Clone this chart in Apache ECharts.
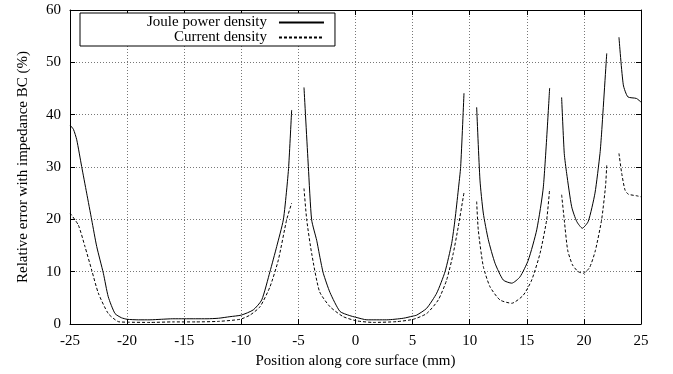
<!DOCTYPE html>
<html>
<head>
<meta charset="utf-8">
<script src="https://cdn.jsdelivr.net/npm/echarts@6/dist/echarts.min.js"></script>
<style>
html,body{margin:0;padding:0;background:#fff;}
#chart{width:673px;height:374px;}
</style>
</head>
<body>
<div id="chart"></div>
<script>
// Joule power density (solid) — null separates the segments
var jouleX = [-25, -24.7, -24.41, -23.98, -23.54, -23.1, -22.66, -22.08, -21.65, -21.06, -20.5, -20, -19, -18, -17, -16, -15, -14, -13, -12, -11, -10, -8.95, -8.21, -7.49, -6.9, -6.32, -6.03, -5.85, -5.59, null,
  -4.51, -4.13, -3.84, -3.4, -3.11, -2.82, -2.23, -1.36, -0.5, 0, 1.0, 2.73, 4.19, 5.0, 5.36, 6.23, 7.11, 7.84, 8.42, 8.71, 9.0, 9.21, 9.5, null,
  10.61, 10.9, 11.19, 11.63, 12.22, 12.94, 13.68, 14.4, 15.13, 15.87, 16.45, 17.0, null,
  18.05, 18.28, 18.49, 18.93, 19.37, 19.86, 20.38, 20.97, 21.41, 21.55, 22.0, null,
  23.07, 23.45, 23.85, 24.6, 25.0];
var jouleY = [38.0, 37.2, 35.2, 30.1, 25.0, 19.9, 14.8, 9.7, 5.2, 2.0, 1.2, 0.9, 0.8, 0.8, 0.9, 1.0, 1.0, 1.0, 1.0, 1.1, 1.4, 1.7, 2.7, 4.6, 10.0, 14.8, 19.9, 25.6, 30.1, 40.9, null,
  45.2, 30.1, 19.9, 16.0, 12.7, 9.7, 6.0, 2.4, 1.6, 1.3, 0.8, 0.8, 1.1, 1.5, 1.7, 3.0, 5.9, 10.0, 15.4, 19.9, 25.6, 30.1, 44.1, null,
  41.4, 27.5, 21.2, 16.1, 11.6, 8.4, 7.8, 9.0, 12.2, 18.0, 26.2, 45.1, null,
  43.3, 32.6, 28.8, 22.4, 19.6, 18.3, 19.6, 25.0, 32.6, 36.5, 51.7, null,
  54.8, 45.7, 43.4, 43.1, 42.4];

// Current density (dashed)
var currentX = [-25, -24.27, -23.69, -23.1, -22.52, -21.65, -20.77, -20, -18, -16, -14, -12, -10.11, -9.24, -8.36, -7.49, -6.76, -6.03, -5.59, null,
  -4.51, -4.27, -3.84, -3.15, -2.23, -1.07, 0.1, 1.56, 3.6, 5.06, 6.23, 7.25, 7.98, 8.56, 9.0, 9.5, null,
  10.61, 10.75, 11.19, 11.78, 12.65, 13.68, 14.69, 15.43, 16.16, 16.74, 17.0, null,
  18.05, 18.28, 18.58, 19.0, 19.5, 19.95, 20.5, 21.0, 21.55, 21.9, 22.0, null,
  23.07, 23.31, 23.6, 23.89, 24.62, 25.0];
var currentY = [21.2, 18.9, 14.8, 10.3, 5.9, 2.0, 0.45, 0.35, 0.3, 0.4, 0.4, 0.5, 0.9, 1.7, 3.3, 7.1, 12.2, 19.9, 23.1, null,
  25.9, 19.9, 13.5, 6.2, 3.3, 1.4, 0.6, 0.3, 0.45, 0.9, 2.0, 4.6, 8.4, 13.5, 18.6, 25.1, null,
  23.4, 18.0, 11.0, 7.1, 4.6, 3.96, 5.5, 8.4, 13.5, 19.9, 25.8, null,
  24.7, 19.9, 14.1, 11.3, 10.0, 9.7, 10.8, 14.0, 19.9, 26.5, 30.4, null,
  32.6, 28.8, 25.6, 24.8, 24.5, 24.3];

var seriesNames = ['Joule power density', 'Current density'];
var xTicks = {min: -25, max: 25, step: 5};
var yTicks = {min: 0, max: 60, step: 10};
var xTitle = 'Position along core surface (mm)';
var yTitle = 'Relative error with impedance BC (%)';

function pairs(xs, ys) {
  var out = [];
  for (var i = 0; i < xs.length; i++) {
    if (xs[i] === null) out.push([null, null]);
    else out.push([xs[i], ys[i]]);
  }
  return out;
}

var FONT = 'Liberation Serif';
var chart = echarts.init(document.getElementById('chart'));
var gridLine = {show: true, lineStyle: {color: '#777', type: [1, 2], width: 1}};
function mirror(extra) {
  return Object.assign({
    type: 'value',
    axisLine: {show: true, onZero: false, lineStyle: {color: '#000', width: 1}},
    axisTick: {show: true, inside: true, length: 5, lineStyle: {color: '#000'}},
    axisLabel: {show: false},
    splitLine: {show: false}
  }, extra);
}
chart.setOption({
  animation: false,
  backgroundColor: '#fff',
  textStyle: {fontFamily: FONT},
  grid: {left: 70, right: 32, top: 10, bottom: 50},
  legend: {
    data: seriesNames,
    orient: 'vertical',
    align: 'right',
    left: 80,
    top: 13,
    itemWidth: 45,
    itemHeight: 14,
    itemGap: 0,
    padding: [2, 10, 1, 67],
    backgroundColor: '#fff',
    borderColor: '#000',
    borderWidth: 1,
    borderRadius: 0,
    itemStyle: {color: 'transparent', borderColor: 'transparent', borderWidth: 0, opacity: 0},
    textStyle: {fontFamily: FONT, fontSize: 15, color: '#000', padding: [0, 7, 0, 0]}
  },
  xAxis: [
    {
      type: 'value', min: xTicks.min, max: xTicks.max, interval: xTicks.step,
      position: 'bottom',
      name: xTitle, nameLocation: 'middle', nameGap: 30,
      nameTextStyle: {fontFamily: FONT, fontSize: 15, color: '#000'},
      axisLine: {show: true, onZero: false, lineStyle: {color: '#000', width: 1}},
      axisTick: {show: true, inside: true, length: 5, lineStyle: {color: '#000'}},
      axisLabel: {fontFamily: FONT, fontSize: 15, color: '#000', margin: 10},
      splitLine: gridLine
    },
    mirror({min: xTicks.min, max: xTicks.max, interval: xTicks.step, position: 'top'})
  ],
  yAxis: [
    {
      type: 'value', min: yTicks.min, max: yTicks.max, interval: yTicks.step,
      position: 'left',
      name: yTitle, nameLocation: 'middle', nameGap: 39,
      nameTextStyle: {fontFamily: FONT, fontSize: 15, color: '#000'},
      axisLine: {show: true, onZero: false, lineStyle: {color: '#000', width: 1}},
      axisTick: {show: true, inside: true, length: 5, lineStyle: {color: '#000'}},
      axisLabel: {fontFamily: FONT, fontSize: 15, color: '#000', margin: 9},
      splitLine: gridLine
    },
    mirror({min: yTicks.min, max: yTicks.max, interval: yTicks.step, position: 'right'})
  ],
  series: [
    {
      name: seriesNames[0], type: 'line', xAxisIndex: 0, yAxisIndex: 0,
      data: pairs(jouleX, jouleY), symbol: 'none', showSymbol: false, connectNulls: false,
      smooth: 0.2,
      lineStyle: {color: '#000', width: 1, type: 'solid'}, itemStyle: {color: '#000'}
    },
    {
      name: seriesNames[1], type: 'line', xAxisIndex: 0, yAxisIndex: 0,
      data: pairs(currentX, currentY), symbol: 'none', showSymbol: false, connectNulls: false,
      smooth: 0.2,
      lineStyle: {color: '#000', width: 1, type: [3, 2]}, itemStyle: {color: '#000'}
    }
  ]
});
</script>
</body>
</html>
